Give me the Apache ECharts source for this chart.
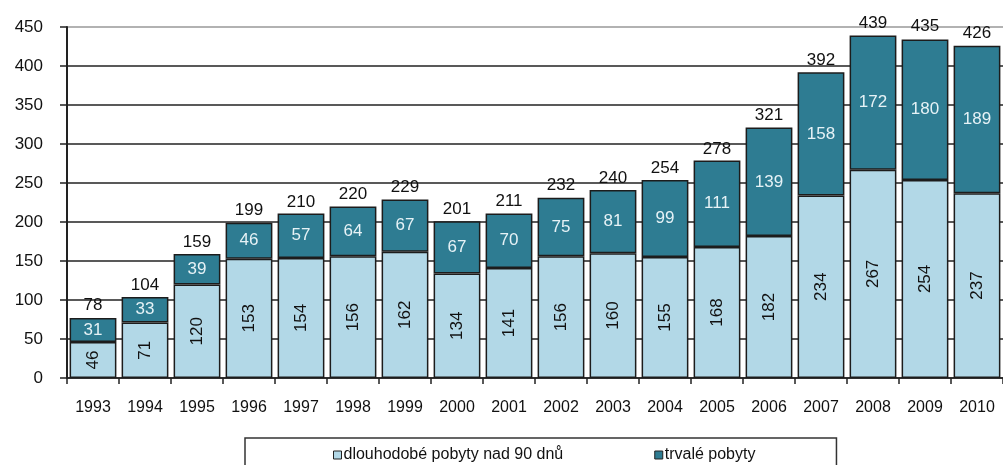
<!DOCTYPE html>
<html>
<head>
<meta charset="utf-8">
<script src="https://cdn.jsdelivr.net/npm/echarts@6/dist/echarts.min.js"></script>
<style>
  html, body { margin: 0; padding: 0; background: #fff; }
  #chart { width: 1003px; height: 465px; }
</style>
</head>
<body>
<div id="chart"></div>
<script>
const years = ['1993', '1994', '1995', '1996', '1997', '1998', '1999', '2000', '2001',
  '2002', '2003', '2004', '2005', '2006', '2007', '2008', '2009', '2010']
const longTerm = [46, 71, 120, 153, 154, 156, 162, 134, 141, 156, 160, 155, 168, 182, 234, 267, 254, 237]
const permanent = [31, 33, 39, 46, 57, 64, 67, 67, 70, 75, 81, 99, 111, 139, 158, 172, 180, 189]
const totals = [78, 104, 159, 199, 210, 220, 229, 201, 211, 232, 240, 254, 278, 321, 392, 439, 435, 426]

const font = 'Liberation Sans, Arial, sans-serif'
const borderStyle = { borderColor: '#1c1c1c', borderWidth: 1.5 }

const chart = echarts.init(document.getElementById('chart'))

chart.setOption({
  animation: false,
  textStyle: { fontFamily: font },
  grid: { left: 67, top: 27, right: -8, bottom: 87 },
  legend: {
    left: 245,
    top: 438,
    padding: [9, 81, 20, 88],
    itemGap: 91,
    itemWidth: 8,
    itemHeight: 8,
    borderColor: '#333',
    borderWidth: 1.5,
    icon: 'rect',
    textStyle: { fontSize: 16, color: '#111', padding: [0, 0, 0, -3] },
    data: [
      { name: 'dlouhodobé pobyty nad 90 dnů', itemStyle: { borderColor: '#222', borderWidth: 1 } },
      { name: 'trvalé pobyty', itemStyle: { borderColor: '#222', borderWidth: 1 } }
    ]
  },
  xAxis: {
    type: 'category',
    data: years,
    axisLine: { lineStyle: { color: '#222', width: 1.5 } },
    axisTick: { show: true, length: 6, lineStyle: { color: '#222', width: 1.5 } },
    axisLabel: { fontSize: 16, color: '#111', margin: 22 }
  },
  yAxis: {
    type: 'value',
    min: 0,
    max: 450,
    interval: 50,
    axisLine: { show: true, lineStyle: { color: '#222', width: 2 } },
    axisTick: { show: true, length: 7, lineStyle: { color: '#222', width: 1.5 } },
    axisLabel: { fontSize: 17, color: '#111', margin: 24 },
    splitLine: {
      lineStyle: {
        color: ['#222', '#222', '#222', '#222', '#222', '#222', '#222', '#222', '#222', '#999'],
        width: 1.5
      }
    }
  },
  series: [
    {
      name: 'dlouhodobé pobyty nad 90 dnů',
      type: 'bar',
      stack: 'total',
      barCategoryGap: '10%',
      data: longTerm,
      itemStyle: Object.assign({ color: '#b2d8e7' }, borderStyle),
      label: {
        show: true,
        position: 'inside',
        rotate: 90,
        fontSize: 17,
        color: '#111'
      }
    },
    {
      name: 'trvalé pobyty',
      type: 'bar',
      stack: 'total',
      data: permanent,
      itemStyle: Object.assign({ color: '#2e7c92' }, borderStyle),
      label: {
        show: true,
        position: 'inside',
        fontSize: 17,
        color: '#e6f2f6'
      }
    },
    {
      name: 'celkem',
      type: 'scatter',
      data: totals,
      symbolSize: 1,
      itemStyle: { color: 'rgba(0,0,0,0)', opacity: 1 },
      silent: true,
      label: {
        show: true,
        position: 'top',
        distance: 3,
        fontSize: 17,
        color: '#111',
        opacity: 1
      }
    }
  ]
})
</script>
</body>
</html>
